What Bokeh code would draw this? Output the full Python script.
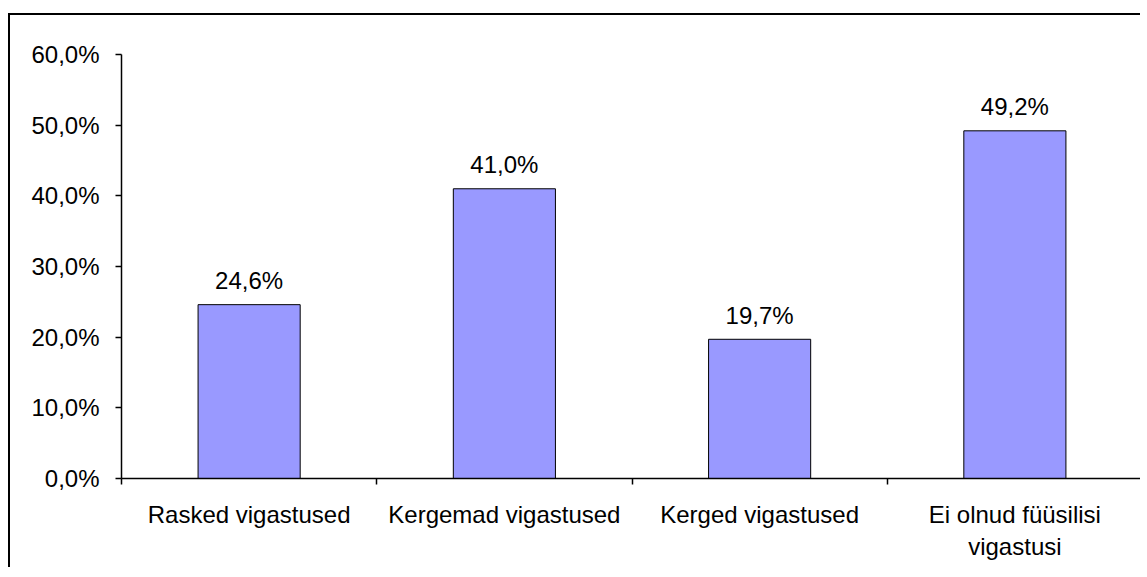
from bokeh.plotting import figure
from bokeh.models import Range1d, FixedTicker, ColumnDataSource
from bokeh.embed import file_html
from bokeh.resources import INLINE
from bokeh.core.properties import value

categories = ["Rasked vigastused", "Kergemad vigastused", "Kerged vigastused",
              "Ei olnud füüsilisi\nvigastusi"]
values = [24.6, 41.0, 19.7, 49.2]
y_ticks = [0, 10, 20, 30, 40, 50, 60]
y_tick_labels = ["0,0%", "10,0%", "20,0%", "30,0%", "40,0%", "50,0%", "60,0%"]

FONT = "Liberation Sans"
FS = "24px"

xs = [i + 0.5 for i in range(len(categories))]
labels = [f"{v:.1f}".replace(".", ",") + "%" for v in values]
src = ColumnDataSource(dict(x=xs, top=values, label=labels))

p = figure(width=1132, height=554, output_backend="svg", toolbar_location=None,
           x_range=Range1d(0, len(categories)), y_range=Range1d(0, 60),
           min_border_left=111, min_border_right=0, min_border_top=39,
           min_border_bottom=91)
p.styles = {"border-left": "2px solid black", "border-top": "2px solid black",
            "margin-top": "13px", "margin-left": "8px"}
p.outline_line_color = None
p.xgrid.visible = False
p.ygrid.visible = False

p.vbar(x="x", top="top", width=0.4, bottom=0, source=src,
       fill_color="#9999FF", line_color="black", line_width=1)
p.text(x="x", y="top", text="label", source=src, text_align="center",
       text_baseline="alphabetic", y_offset=-24, text_font=value(FONT),
       text_font_size=FS, text_color="black")

ya = p.yaxis[0]
ya.ticker = FixedTicker(ticks=y_ticks, minor_ticks=[])
ya.major_label_overrides = {t: l for t, l in zip(y_ticks, y_tick_labels)}
ya.major_tick_in = 0
ya.major_tick_out = 6
ya.minor_tick_line_color = None
ya.major_label_standoff = 16
ya.major_label_text_font = FONT
ya.major_label_text_font_size = FS
ya.major_label_text_color = "black"
ya.axis_line_width = 1.5
ya.major_tick_line_width = 1.5

xa = p.xaxis[0]
xa.ticker = FixedTicker(ticks=xs, minor_ticks=list(range(len(categories) + 1)))
xa.major_label_overrides = {x: c for x, c in zip(xs, categories)}
xa.major_tick_in = 0
xa.major_tick_out = 0
xa.minor_tick_in = 0
xa.minor_tick_out = 6
xa.minor_tick_line_width = 1.5
xa.axis_line_width = 1.5
xa.major_label_standoff = 16
xa.major_label_text_font = FONT
xa.major_label_text_font_size = FS
xa.major_label_text_color = "black"

open("out.html", "w").write(file_html(p, INLINE))
